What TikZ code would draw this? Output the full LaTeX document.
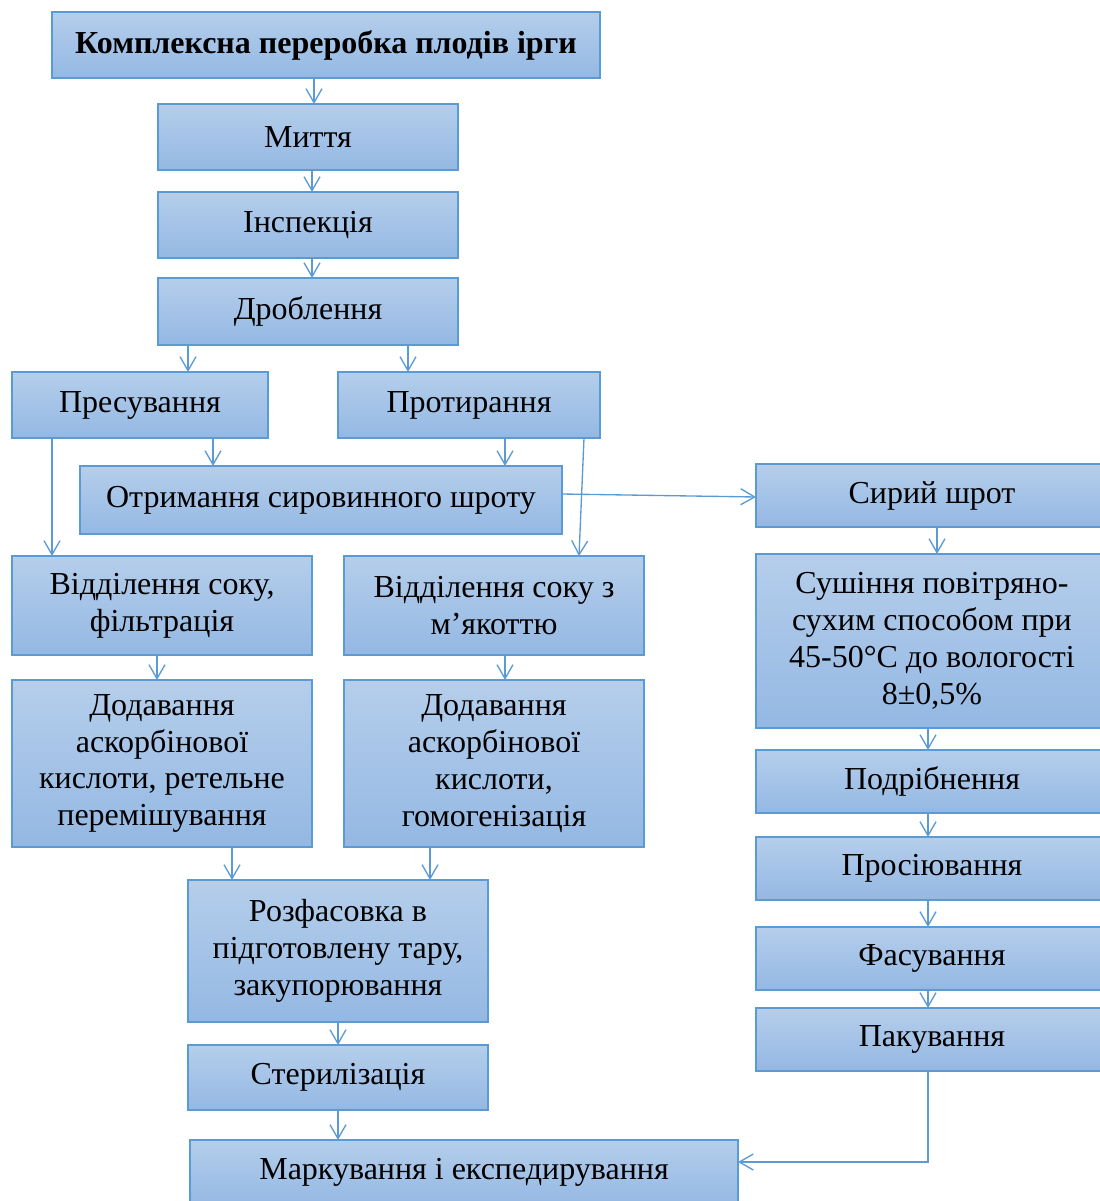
\documentclass[tikz,border=0pt]{standalone}
\usepackage{fontspec}
\setmainfont{Liberation Serif}
\usetikzlibrary{arrows.meta}
\definecolor{bordc}{HTML}{5B9BD5}
\definecolor{arrc}{HTML}{5B9BD5}
\definecolor{boxtop}{HTML}{B5CEEB}
\definecolor{boxbot}{HTML}{94B8E3}
\newcommand\fs{\fontsize{24}{27.7}\selectfont}
\newcommand\mybox[6]{\node[box, minimum width={(#4-#2)*0.75pt}, minimum height={(#5-#3)*0.75pt}] (#1) at ({(#2+#4)/2},{(#3+#5)/2}) {#6};}
\tikzset{
 box/.style={draw=bordc, line width=1pt, top color=boxtop, bottom color=boxbot, inner sep=0pt, outer sep=0pt, align=center, font=\fs, text=black},
 arr/.style={draw=arrc, line width=1pt, -{Straight Barb[length=10.5pt,width=12pt]}}
}
\begin{document}
\begin{tikzpicture}[x=0.75pt,y=-0.75pt]
\useasboundingbox (0,0) rectangle (1099,1201);
\mybox{t}{52}{12}{600}{78}{\textbf{Комплексна переробка плодів ірги}}
\mybox{m}{158}{104}{458}{170}{Миття}
\mybox{i}{158}{192}{458}{258}{Інспекція}
\mybox{d}{158}{278}{458}{345}{Дроблення}
\mybox{pres}{12}{372}{268}{438}{Пресування}
\mybox{prot}{338}{372}{600}{438}{Протирання}
\mybox{otr}{80}{466}{562}{534}{Отримання сировинного шроту}
\mybox{syr}{756}{464}{1108}{527}{Сирий шрот}
\mybox{sush}{756}{554}{1108}{728}{Сушіння повітряно-\\сухим способом при\\45-50°C до вологості\\8±0,5\%}
\mybox{sepL}{12}{556}{312}{655}{Відділення соку,\\фільтрація}
\mybox{sepR}{344}{556}{644}{655}{Відділення соку з\\м’якоттю}
\mybox{addL}{12}{680}{312}{847}{Додавання\\аскорбінової\\кислоти, ретельне\\перемішування}
\mybox{addR}{344}{680}{644}{847}{Додавання\\аскорбінової\\кислоти,\\гомогенізація}
\mybox{podr}{756}{750}{1108}{813}{Подрібнення}
\mybox{pros}{756}{837}{1108}{900}{Просіювання}
\mybox{fas}{756}{927}{1108}{990}{Фасування}
\mybox{pak}{756}{1008}{1108}{1071}{Пакування}
\mybox{roz}{188}{880}{488}{1022}{Розфасовка в\\підготовлену тару,\\закупорювання}
\mybox{ster}{188}{1045}{488}{1110}{Стерилізація}
\mybox{mark}{190}{1140}{738}{1205}{Маркування і експедирування}
% helper coordinates
\coordinate (x314) at (314,0);
\coordinate (x312) at (312,0);
\coordinate (x188) at (188,0);
\coordinate (x408) at (408,0);
\coordinate (x213) at (213,0);
\coordinate (x505) at (505,0);
\coordinate (x52) at (52,0);
\coordinate (x584) at (584,0);
\coordinate (x579) at (579,0);
\coordinate (x937) at (937,0);
\coordinate (x928) at (928,0);
\coordinate (x157) at (157,0);
\coordinate (x232) at (232,0);
\coordinate (x430) at (430,0);
\coordinate (x338) at (338,0);
\coordinate (y494) at (0,494);
\coordinate (y497) at (0,497);
\coordinate (y1162) at (0,1162);
% connectors
\draw[arr] (t.south -| x314) -- (m.north -| x314);
\draw[arr] (m.south -| x312) -- (i.north -| x312);
\draw[arr] (i.south -| x312) -- (d.north -| x312);
\draw[arr] (d.south -| x188) -- (pres.north -| x188);
\draw[arr] (d.south -| x408) -- (prot.north -| x408);
\draw[arr] (pres.south -| x213) -- (otr.north -| x213);
\draw[arr] (prot.south -| x505) -- (otr.north -| x505);
\draw[arr] (pres.south -| x52) -- (sepL.north -| x52);
\draw[arr] (prot.south -| x584) -- (sepR.north -| x579);
\draw[arr] (otr.east |- y494) -- (syr.west |- y497);
\draw[arr] (syr.south -| x937) -- (sush.north -| x937);
\draw[arr] (sepL.south -| x157) -- (addL.north -| x157);
\draw[arr] (sepR.south -| x505) -- (addR.north -| x505);
\draw[arr] (addL.south -| x232) -- (roz.north -| x232);
\draw[arr] (addR.south -| x430) -- (roz.north -| x430);
\draw[arr] (roz.south -| x338) -- (ster.north -| x338);
\draw[arr] (ster.south -| x338) -- (mark.north -| x338);
\draw[arr] (sush.south -| x928) -- (podr.north -| x928);
\draw[arr] (podr.south -| x928) -- (pros.north -| x928);
\draw[arr] (pros.south -| x928) -- (fas.north -| x928);
\draw[arr] (fas.south -| x928) -- (pak.north -| x928);
\draw[arr] (pak.south -| x928) |- (mark.east |- y1162);
\end{tikzpicture}
\end{document}
